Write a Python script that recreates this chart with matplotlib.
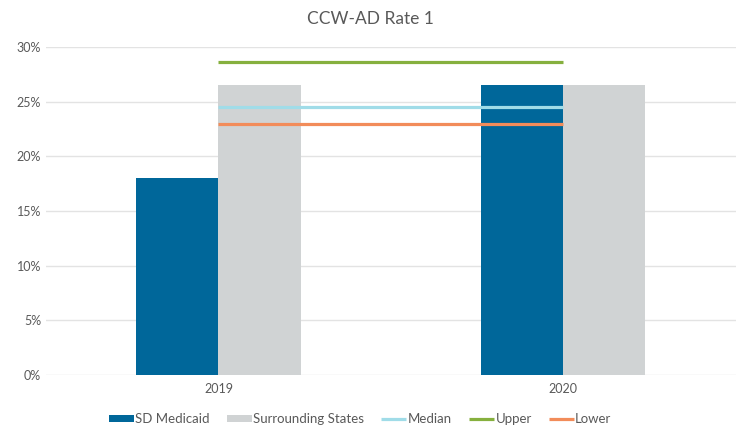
import numpy as np
import matplotlib
matplotlib.use('Agg')
import matplotlib.pyplot as plt
from matplotlib.ticker import FuncFormatter

years = ['2019', '2020']
sd_medicaid = [18.0, 26.5]
surrounding = [26.5, 26.5]
median = [24.5, 24.5]
upper = [28.6, 28.6]
lower = [23.0, 23.0]

plt.rcParams['font.family'] = ['Lato', 'DejaVu Sans']
txt = '#595959'

fig = plt.figure(figsize=(7.41, 4.26), dpi=100)
ax = fig.add_axes([0.062, 0.1197, 0.931, 0.770])

X = np.arange(len(years))
width = 0.238
b1 = ax.bar(X - width / 2, sd_medicaid, width, color='#00679A', label='SD Medicaid', zorder=2)
b2 = ax.bar(X + width / 2, surrounding, width, color='#D0D3D4', label='Surrounding States', zorder=2)
l1, = ax.plot(X, median, color='#A0DCE8', lw=2.3, label='Median', zorder=3, solid_capstyle='butt')
l2, = ax.plot(X, upper, color='#86B03E', lw=2.3, label='Upper', zorder=3, solid_capstyle='butt')
l3, = ax.plot(X, lower, color='#F28C5A', lw=2.3, label='Lower', zorder=3, solid_capstyle='butt')

ax.set_xlim(-0.5, 1.5)
ax.set_ylim(0, 30)
ax.set_yticks(np.arange(0, 31, 5))
ax.yaxis.set_major_formatter(FuncFormatter(lambda v, p: '%d%%' % v))
ax.set_xticks(X)
ax.set_xticklabels(years)
ax.grid(axis='y', color='#E3E3E3', lw=1, zorder=0)
for s in ax.spines.values():
    s.set_visible(False)
ax.tick_params(length=0, colors=txt, labelsize=9)
ax.tick_params(axis='x', pad=6)

fig.text(0.5, 0.955, 'CCW-AD Rate 1', color=txt, fontsize=12.5, ha='center', va='center')

fig.legend([b1, b2, l1, l2, l3], ['SD Medicaid', 'Surrounding States', 'Median', 'Upper', 'Lower'],
           loc='center', bbox_to_anchor=(0.486, 0.017), ncol=5, frameon=False,
           fontsize=9.5, labelcolor=txt, handlelength=1.9, handletextpad=0.1,
           columnspacing=1.3, handleheight=0.45)

plt.savefig('out.png', dpi=100)
